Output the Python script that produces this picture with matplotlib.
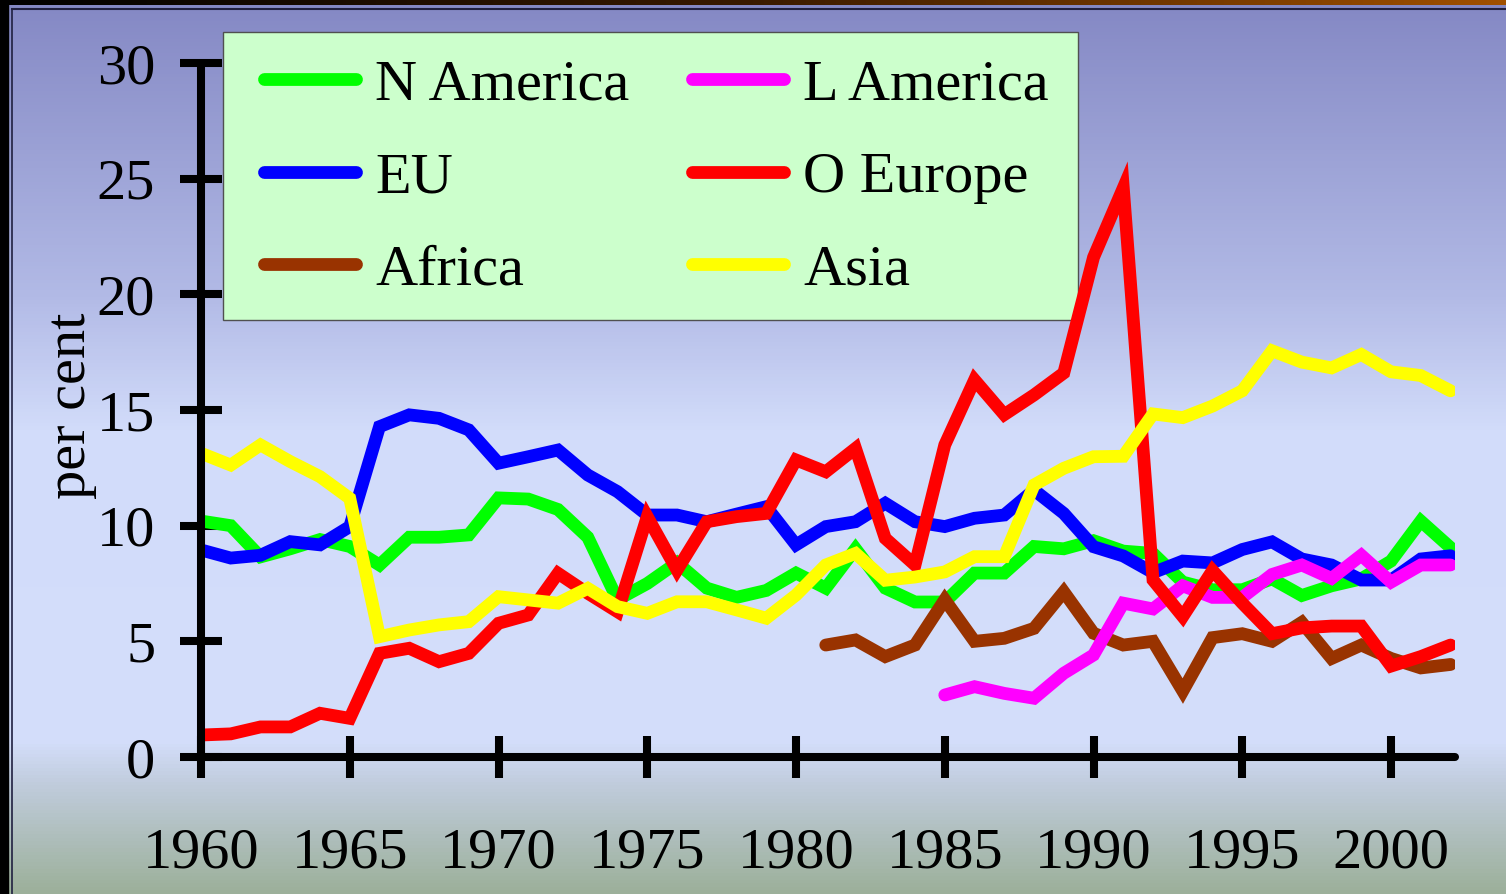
import numpy as np
import matplotlib
matplotlib.use("Agg")
import matplotlib.pyplot as plt
from matplotlib.colors import LinearSegmentedColormap

years = list(range(1960, 2003))

n_america = [10.2, 10.0, 8.65, 9.0, 9.4, 9.1, 8.3, 9.5, 9.5, 9.6, 11.2, 11.15, 10.7, 9.5, 6.8,
             7.5, 8.4, 7.3, 6.9, 7.2, 7.95, 7.3, 9.0, 7.3, 6.7, 6.7, 7.95, 7.95, 9.1, 9.0,
             9.35, 8.9, 8.8, 7.56, 7.23, 7.23, 7.7, 6.98, 7.4, 7.7, 8.47, 10.2, 9.05]

eu = [8.95, 8.6, 8.72, 9.31, 9.17, 9.96, 14.28, 14.79, 14.64, 14.14, 12.7, 12.98, 13.27, 12.19,
      11.47, 10.46, 10.46, 10.17, 10.5, 10.82, 9.17, 9.96, 10.17, 10.97, 10.17, 9.96, 10.32,
      10.46, 11.54, 10.53, 9.09, 8.69, 7.97, 8.47, 8.39, 8.97, 9.3, 8.56, 8.3, 7.65, 7.65,
      8.56, 8.7]

o_europe = [0.95, 1.0, 1.3, 1.3, 1.89, 1.67, 4.48, 4.7, 4.12, 4.48, 5.78, 6.14, 7.94, 7.08, 6.28,
            10.39, 8.08, 10.17, 10.39, 10.53, 12.84, 12.33, 13.34, 9.45, 8.3, 13.49, 16.3, 14.8,
            15.65, 16.6, 21.6, 24.6, 7.65, 6.07, 8.06, 6.65, 5.33, 5.58, 5.66, 5.66, 3.93, 4.34,
            4.84]

africa_years = list(range(1981, 2003))
africa = [4.84, 5.06, 4.34, 4.84, 6.8, 5.0, 5.13, 5.56, 7.14, 5.35, 4.84, 5.0, 2.85, 5.16, 5.33,
          5.0, 5.82, 4.26, 4.84, 4.26, 3.85, 4.0]

l_america_years = list(range(1985, 2003))
l_america = [2.68, 3.04, 2.75, 2.54, 3.62, 4.41, 6.65, 6.4, 7.4, 6.9, 6.9, 7.89, 8.3, 7.72, 8.72,
             7.56, 8.3, 8.3]

asia = [13.13, 12.62, 13.49, 12.77, 12.12, 11.18, 5.2, 5.49, 5.71, 5.85, 6.93, 6.79, 6.65, 7.29,
        6.5, 6.21, 6.71, 6.71, 6.36, 6.0, 7.0, 8.3, 8.8, 7.64, 7.78, 8.0, 8.66, 8.66, 11.76, 12.48,
        12.98, 13.0, 14.83, 14.67, 15.17, 15.83, 17.56, 17.07, 16.82, 17.4, 16.65, 16.49, 15.83]

x_ticks = [1960, 1965, 1970, 1975, 1980, 1985, 1990, 1995, 2000]
y_ticks = [0, 5, 10, 15, 20, 25, 30]

PW, PH = 1506, 894
W, H, DPI = PW / 100, PH / 100, 100
fig = plt.figure(figsize=(W, H), dpi=DPI)

# background gradient
bg = fig.add_axes([0, 0, 1, 1], zorder=-10)
bg.set_axis_off()
stops = [(0.0, "#8488C4"), (0.33, "#B2BAE6"), (0.48, "#D2DCFA"), (0.83, "#D4DEFB"),
         (0.88, "#C0CCDC"), (1.0, "#9CB09A")]
cmap = LinearSegmentedColormap.from_list("bgc", stops)
grad = np.linspace(0, 1, PH).reshape(-1, 1)
bg.imshow(grad, aspect="auto", cmap=cmap, extent=[0, 1, 0, 1], origin="upper")
bg.set_xlim(0, 1)
bg.set_ylim(0, 1)
top_cmap = LinearSegmentedColormap.from_list("top", ["#000000", "#3A1A00", "#A05000"])
tg = np.linspace(0, 1, 400).reshape(1, -1)
bg.imshow(tg, aspect="auto", cmap=top_cmap, extent=[0, 1, 1 - 5 / PH, 1])
bg.add_patch(plt.Rectangle((0, 0), 8 / PW, 1, color="black"))
bg.plot([12 / PW, 12 / PW], [0, 1 - 9 / PH], color="#202040", lw=1.2)
bg.plot([12 / PW, 1], [1 - 9 / PH, 1 - 9 / PH], color="#202040", lw=1.5)

# legend box (styling element)
bg.add_patch(plt.Rectangle((223 / PW, 1 - 320 / PH), (1078 - 223) / PW, (320 - 32) / PH,
                           facecolor="#CCFFCC", edgecolor="#505050", lw=1.0, zorder=5))

ax = fig.add_axes([201 / PW, 137 / PH, 1254 / PW, 694 / PH])
ax.patch.set_alpha(0)
ax.set_xlim(1960, 2002.15)
ax.set_ylim(0, 30)

lw = 9.2
kw = dict(lw=lw, solid_capstyle="round", solid_joinstyle="miter")
ax.plot(years, n_america, color="#00FF00", label="N America", **kw)
ax.plot(years, eu, color="#0000FF", label="EU", **kw)
ax.plot(africa_years, africa, color="#993300", label="Africa", **kw)
ax.plot(l_america_years, l_america, color="#FF00FF", label="L America", **kw)
ax.plot(years, o_europe, color="#FF0000", label="O Europe", **kw)
ax.plot(years, asia, color="#FFFF00", label="Asia", **kw)

for spine in ["top", "right"]:
    ax.spines[spine].set_visible(False)
for spine in ["left", "bottom"]:
    ax.spines[spine].set_linewidth(5.8)
    ax.spines[spine].set_color("black")
    ax.spines[spine].set_capstyle("round")

font = "Liberation Serif"
fs = 42
ax.set_xticks(x_ticks)
ax.set_xticklabels([str(v) for v in x_ticks], fontsize=fs, family=font)
ax.set_yticks(y_ticks)
ax.set_yticklabels([str(v) for v in y_ticks], fontsize=fs, family=font)
ax.tick_params(axis="both", direction="inout", length=30, width=5.8, color="black")
ax.tick_params(axis="x", pad=36)
ax.tick_params(axis="y", pad=18)

ax.set_ylabel("per cent", fontsize=fs, family=font)
ax.yaxis.set_label_coords(-0.083, 0.506)

handles, labels = ax.get_legend_handles_labels()
leg = fig.legend(handles, labels, ncol=2, loc="upper left",
                 bbox_to_anchor=(264 / PW, 1 - 59 / PH), bbox_transform=fig.transFigure,
                 borderaxespad=0, prop={"family": font, "size": fs}, frameon=False,
                 handlelength=1.58, handletextpad=0.33, columnspacing=1.06,
                 labelspacing=0.68, borderpad=0)
leg.set_zorder(10)
for line in leg.get_lines():
    line.set_linewidth(lw)
    line.set_solid_capstyle("round")

fig.savefig("out.png", dpi=DPI)
